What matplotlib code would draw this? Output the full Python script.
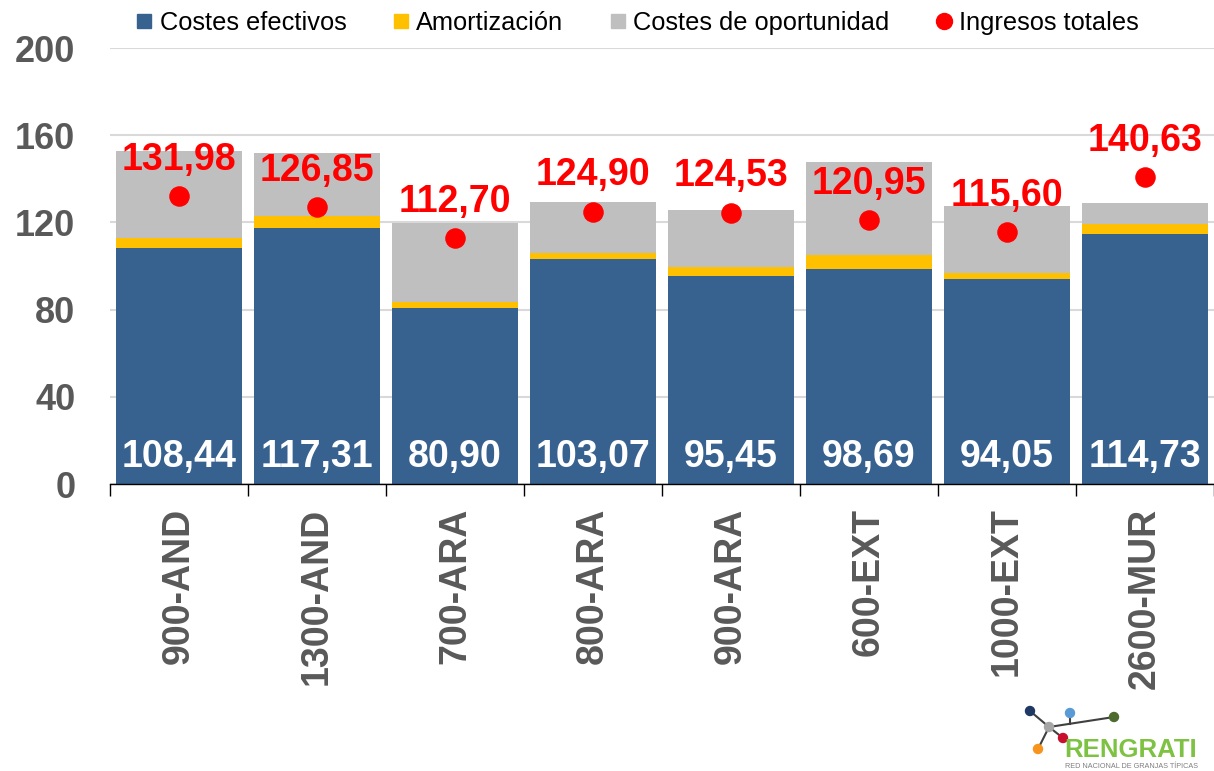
import matplotlib
matplotlib.use("Agg")
import matplotlib.pyplot as plt
from matplotlib.lines import Line2D
from matplotlib.patches import Circle
import numpy as np

plt.rcParams['font.family'] = ['Liberation Sans', 'DejaVu Sans']

cats = ['900-AND', '1300-AND', '700-ARA', '800-ARA', '900-ARA', '600-EXT', '1000-EXT', '2600-MUR']
efectivos = [108.44, 117.31, 80.90, 103.07, 95.45, 98.69, 94.05, 114.73]
amortizacion = [4.2, 5.6, 2.6, 3.0, 4.3, 6.3, 2.9, 4.4]
oportunidad = [40.0, 29.1, 36.4, 23.2, 26.0, 42.6, 30.7, 9.6]
ingresos = [131.98, 126.85, 112.70, 124.90, 124.53, 120.95, 115.60, 140.63]
yticks = [0, 40, 80, 120, 160, 200]

C_BLUE, C_YEL, C_GRAY, C_RED = '#37618f', '#ffc000', '#bfbfbf', '#ff0000'
TXT = '#595959'

def fmt(v):
    return f'{v:.2f}'.replace('.', ',')

W, H = 1214, 771
fig = plt.figure(figsize=(W / 100, H / 100), dpi=100)
ax = fig.add_axes([110 / W, 1 - 484 / H, (W - 110) / W, (484 - 48) / H])

x = np.arange(len(cats))
ef = np.array(efectivos); am = np.array(amortizacion); op = np.array(oportunidad)
ax.bar(x, ef, width=0.91, color=C_BLUE, zorder=2)
ax.bar(x, am, width=0.91, bottom=ef, color=C_YEL, zorder=2)
ax.bar(x, op, width=0.91, bottom=ef + am, color=C_GRAY, zorder=2)
ax.scatter(x, ingresos, s=190, color=C_RED, zorder=4)

for xi, v in zip(x, ingresos):
    ax.annotate(fmt(v), (xi, v), xytext=(0, 19), textcoords='offset points',
                ha='center', va='baseline', fontsize=27, fontweight='bold',
                color=C_RED, zorder=5)
for xi, v in zip(x, efectivos):
    ax.text(xi, 7.8, fmt(v), ha='center', va='baseline', fontsize=27,
            fontweight='bold', color='white', zorder=5)

ax.set_ylim(0, 200)
ax.set_xlim(-0.5, 7.5 - 4 / 138.5)
ax.set_yticks(yticks)
ax.set_yticklabels([str(t) for t in yticks], fontsize=26, fontweight='bold', color=TXT)
ax.tick_params(axis='y', length=0, pad=25)
ax.set_xticks(x)
ax.set_xticklabels(cats, rotation=90, fontsize=27, fontweight='bold', color=TXT)
ax.set_xticks(np.arange(-0.5, 8, 1), minor=True)
ax.tick_params(axis='x', which='major', length=0, pad=17)
ax.tick_params(axis='x', which='minor', length=8.6, width=1, color='black', direction='out')
ax.grid(axis='y', color='#d9d9d9', linewidth=1.5, zorder=0)
ax.set_axisbelow(True)
for s in ['top', 'right', 'left']:
    ax.spines[s].set_visible(False)
ax.spines['bottom'].set_color('black')
ax.spines['bottom'].set_linewidth(1)

handles = [
    Line2D([], [], marker='s', ls='none', color=C_BLUE, markersize=9.5),
    Line2D([], [], marker='s', ls='none', color=C_YEL, markersize=9.5),
    Line2D([], [], marker='s', ls='none', color=C_GRAY, markersize=9.5),
    Line2D([], [], marker='o', ls='none', color=C_RED, markersize=11.5),
]
labels = ['Costes efectivos', 'Amortización', 'Costes de oportunidad', 'Ingresos totales']
fig.legend(handles, labels, loc='center', bbox_to_anchor=(638 / W, 1 - 23 / H),
           ncol=4, frameon=False, fontsize=18.3, handlelength=0.6, handletextpad=0.3,
           columnspacing=1.85, borderpad=0)

# logo RENGRATI
lg = fig.add_axes([0, 0, 1, 1], zorder=10)
lg.set_xlim(0, W); lg.set_ylim(H, 0); lg.axis('off')
lc = '#404040'
lg.plot([1030, 1049], [711, 727], color=lc, lw=1.5)
lg.plot([1049, 1038], [727, 749], color=lc, lw=1.5)
lg.plot([1049, 1063], [727, 738], color=lc, lw=1.5)
lg.plot([1049, 1114], [727, 717], color=lc, lw=1.5)
lg.plot([1070, 1070], [713, 724], color=lc, lw=1.5)
for (cx, cy, c) in [(1030, 711, '#1f3864'), (1049, 727, '#a6a6a6'), (1070, 713, '#5b9bd5'),
                    (1114, 717, '#4e6b2e'), (1063, 738, '#c8102e'), (1038, 749, '#f7941d')]:
    lg.add_patch(Circle((cx, cy), 4.5, color=c, zorder=3))
lg.text(1064, 757, 'RENGRATI', fontsize=18.5, fontweight='bold', color='#7dc242',
        ha='left', va='baseline')
lg.text(1065, 768, 'RED NACIONAL DE GRANJAS TÍPICAS', fontsize=5.2, color='#7f7f7f',
        ha='left', va='baseline')

fig.savefig('out.png', dpi=100, facecolor='white')
